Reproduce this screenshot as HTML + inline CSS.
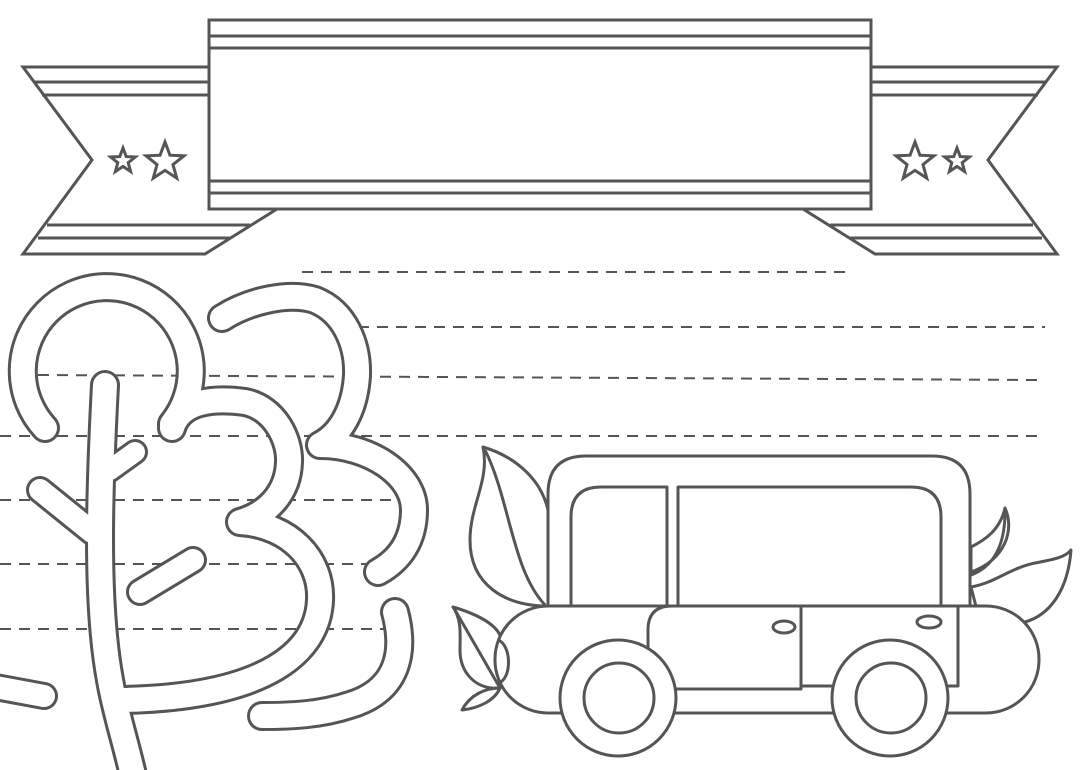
<!DOCTYPE html>
<html><head><meta charset="utf-8"><style>
html,body{margin:0;padding:0;background:#fff;width:1080px;height:770px;overflow:hidden}
svg{display:block}
</style></head><body>
<svg width="1080" height="770" viewBox="0 0 1080 770" xmlns="http://www.w3.org/2000/svg">
<defs>
<polygon id="star" points="0,-1 0.247,-0.34 0.951,-0.309 0.399,0.13 0.588,0.809 0,0.42 -0.588,0.809 -0.399,0.13 -0.951,-0.309 -0.247,-0.34"/>
<g id="tail" fill="#fff" stroke="#555" stroke-width="3">
  <polygon points="23,67 209,67 209,209 277,209 205,254 23,254 92,160"/>
  <line x1="33" y1="82" x2="209" y2="82"/>
  <line x1="42" y1="95" x2="209" y2="95"/>
  <line x1="47" y1="225" x2="250" y2="225"/>
  <line x1="38" y1="238" x2="231" y2="238"/>
  <use href="#star" transform="translate(165,162) scale(20)" style="stroke-width:0.15"/>
  <use href="#star" transform="translate(123,161) scale(13)" style="stroke-width:0.23"/>
</g>
</defs>

<use href="#tail"/>
<use href="#tail" transform="translate(1080,0) scale(-1,1)"/>
<g fill="#fff" stroke="#555" stroke-width="3">
  <rect x="209" y="20" width="662" height="189"/>
  <line x1="209" y1="36" x2="871" y2="36"/>
  <line x1="209" y1="48" x2="871" y2="48"/>
  <line x1="209" y1="181" x2="871" y2="181"/>
  <line x1="209" y1="193" x2="871" y2="193"/>
</g>

<g stroke="#555" stroke-width="2" stroke-dasharray="11,8">
  <line x1="302" y1="272" x2="852" y2="272"/>
  <line x1="358" y1="327" x2="1045" y2="327"/>
  <line x1="38" y1="375" x2="1038" y2="380"/>
  <line x1="0" y1="436" x2="1045" y2="436"/>
  <line x1="0" y1="500" x2="400" y2="500"/>
  <line x1="0" y1="564" x2="380" y2="564"/>
  <line x1="0" y1="629" x2="385" y2="629"/>
</g>

<g fill="none" stroke-linecap="round" stroke-linejoin="round">
 <g stroke="#555">
  <path d="M 45 428 A 84 84 0 1 1 172 424" stroke-width="30"/>
  <path d="M 172 428 C 180 400, 215 398, 245 402 C 275 408, 290 440, 289 462 C 288 495, 265 515, 240 522 C 290 525, 322 560, 320 600 C 318 650, 270 697, 122 700" stroke-width="30"/>
  <path d="M 222 318 C 250 300, 290 292, 315 300 C 345 312, 358 345, 357 375 C 355 410, 340 435, 320 445 C 370 445, 414 475, 414 510 C 414 540, 400 560, 378 572" stroke-width="30"/>
  <path d="M 395 612 C 405 650, 400 690, 350 705 C 320 715, 290 716, 262 716" stroke-width="30"/>
  <path d="M 105 385 C 100 480, 95 600, 110 680 C 115 710, 125 740, 133 775" stroke-width="30"/>
  <path d="M 110 470 L 135 452" stroke-width="26"/>
  <path d="M 40 490 L 92 532" stroke-width="28"/>
  <path d="M 140 592 L 193 560" stroke-width="28"/>
  <path d="M -10 686 L 44 696" stroke-width="28"/>
 </g>
 <g stroke="#fff">
  <path d="M 45 428 A 84 84 0 1 1 172 424" stroke-width="24"/>
  <path d="M 172 428 C 180 400, 215 398, 245 402 C 275 408, 290 440, 289 462 C 288 495, 265 515, 240 522 C 290 525, 322 560, 320 600 C 318 650, 270 697, 122 700" stroke-width="24"/>
  <path d="M 222 318 C 250 300, 290 292, 315 300 C 345 312, 358 345, 357 375 C 355 410, 340 435, 320 445 C 370 445, 414 475, 414 510 C 414 540, 400 560, 378 572" stroke-width="24"/>
  <path d="M 395 612 C 405 650, 400 690, 350 705 C 320 715, 290 716, 262 716" stroke-width="24"/>
  <path d="M 105 385 C 100 480, 95 600, 110 680 C 115 710, 125 740, 133 775" stroke-width="24"/>
  <path d="M 110 470 L 135 452" stroke-width="20"/>
  <path d="M 40 490 L 92 532" stroke-width="22"/>
  <path d="M 140 592 L 193 560" stroke-width="22"/>
  <path d="M -10 686 L 44 696" stroke-width="22"/>
 </g>
</g>

<g fill="#fff" stroke="#555" stroke-width="3" stroke-linejoin="round">
  <path d="M 1071 550 C 1068 590, 1050 615, 1025 622 L 980 622 L 971 587 C 995 583, 1010 568, 1035 563 C 1050 560, 1065 558, 1071 550 Z"/>
  <path d="M 1005 508 C 1015 530, 1005 560, 971 572 L 971 547 C 985 540, 1000 530, 1005 508 Z"/>
  <path d="M 971 575 C 990 568, 1005 550, 1005 512" fill="none"/>
  <path d="M 483 447 C 510 455, 540 475, 548 510 L 548 606 C 505 606, 470 585, 470 540 C 470 505, 490 480, 483 447 Z"/>
  <path d="M 485 450 C 510 500, 512 570, 545 605" fill="none"/>
  <path d="M 548 606 L 548 494 Q 548 456 586 456 L 932 456 Q 970 456 970 494 L 970 606 Z"/>
  <path d="M 571 606 L 571 517 Q 571 487 601 487 L 667 487 L 667 606 Z"/>
  <path d="M 678 606 L 678 487 L 911 487 Q 941 487 941 517 L 941 606 Z"/>
  <path d="M 453 607 C 480 615, 495 625, 500 635 L 500 688 C 475 690, 460 672, 460 650 C 460 635, 462 620, 453 607 Z"/>
  <path d="M 455 610 L 500 688" fill="none"/>
  <path d="M 462 710 C 470 695, 485 688, 500 688 C 495 700, 480 708, 462 710 Z"/>
  <rect x="495" y="606" width="544" height="107" rx="53" ry="53"/>
  <path d="M 498 640 C 512 645, 512 680, 498 683" fill="none"/>
  <path d="M 648 689 L 648 630 Q 648 606 672 606 L 801 606 L 801 689 Z"/>
  <path d="M 801 606 L 958 606 L 958 686 L 801 686" fill="none"/>
  <ellipse cx="784" cy="627" rx="11" ry="6"/>
  <ellipse cx="929" cy="622" rx="12" ry="6"/>
  <circle cx="618" cy="698" r="58"/>
  <circle cx="619" cy="698" r="35"/>
  <circle cx="890" cy="698" r="58"/>
  <circle cx="891" cy="698" r="35"/>
</g>
</svg>
</body></html>
